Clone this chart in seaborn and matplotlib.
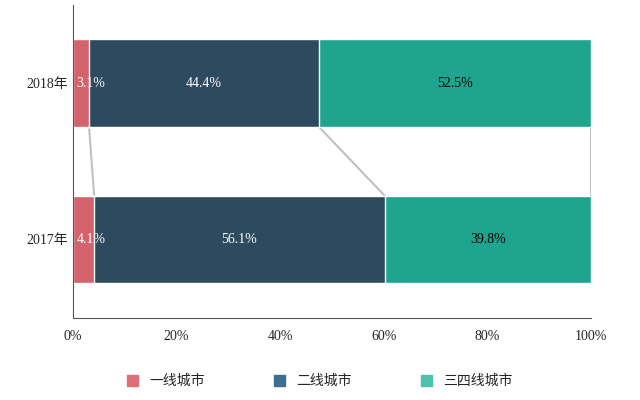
import matplotlib
matplotlib.use("Agg")
import matplotlib.pyplot as plt
import seaborn as sns
import pandas as pd
import numpy as np

years = ["2017年", "2018年"]
series = ["一线城市", "二线城市", "三四线城市"]
tier1 = [4.1, 3.1]
tier2 = [56.1, 44.4]
tier34 = [39.8, 52.5]
colors = ["#d5636b", "#2e4a5f", "#1fa48f"]
legend_colors = ["#dc6f77", "#3d6e91", "#4fc0ae"]

sns.set_style("white")
plt.rcParams['font.family'] = ['Liberation Serif', 'Noto Sans CJK SC']

fig = plt.figure(figsize=(6.4, 4), dpi=100)
ax = fig.add_axes([0.114, 0.205, 0.809, 0.7825])

vals = np.array([tier1, tier2, tier34])
cum = np.cumsum(vals, axis=0)
order = [1, 0]  # 2018 top
for i in [2, 1, 0]:
    df = pd.DataFrame({"year": years, "v": cum[i]})
    sns.barplot(data=df, x="v", y="year", order=["2018年", "2017年"], orient="h",
                color=colors[i], saturation=1, width=0.56, ax=ax)

# y positions: 2018 -> 0, 2017 -> 1
h = 0.56
for i in range(3):
    x18 = cum[i][1]; x17 = cum[i][0]
    ax.plot([x18, x17], [0 + h/2, 1 - h/2], color="#c0c0c0", lw=1.5, zorder=0.5)

for yi, idx in [(0, 1), (1, 0)]:
    starts = [0, cum[0][idx], cum[1][idx]]
    for i in range(3):
        v = vals[i][idx]
        tc = "black" if i == 2 else "white"
        if i == 0:
            ax.text(starts[i] + 0.7, yi, f"{v}%", ha="left", va="center", color=tc, fontsize=10)
        else:
            ax.text(starts[i] + v/2, yi, f"{v}%", ha="center", va="center", color=tc, fontsize=10)

ax.set_xlim(0, 100)
ax.set_ylim(1.503, -0.49)
ax.set_xticks([0, 20, 40, 60, 80, 100])
ax.set_xticklabels([f"{t}%" for t in [0, 20, 40, 60, 80, 100]], fontsize=10)
ax.set_yticks([-0.5, 0.5, 1.5], minor=True)
ax.tick_params(axis="y", which="major", length=0, labelsize=10)
ax.tick_params(axis="y", which="minor", length=5, color="#555555")
ax.tick_params(axis="x", length=5, color="#555555")
ax.set_xlabel(""); ax.set_ylabel("")
for s in ["top", "right"]:
    ax.spines[s].set_visible(False)
for s in ["left", "bottom"]:
    ax.spines[s].set_color("#555555")

from matplotlib.patches import Patch
handles = [Patch(color=c, label=l) for c, l in zip(legend_colors, series)]
fig.legend(handles=handles, loc="center", bbox_to_anchor=(0.5, 0.047), ncol=3, frameon=False,
           prop={"family": ["Noto Sans CJK SC"], "size": 10}, handlelength=0.8, handleheight=0.8,
           columnspacing=5)
fig.savefig("out.png", dpi=100)
